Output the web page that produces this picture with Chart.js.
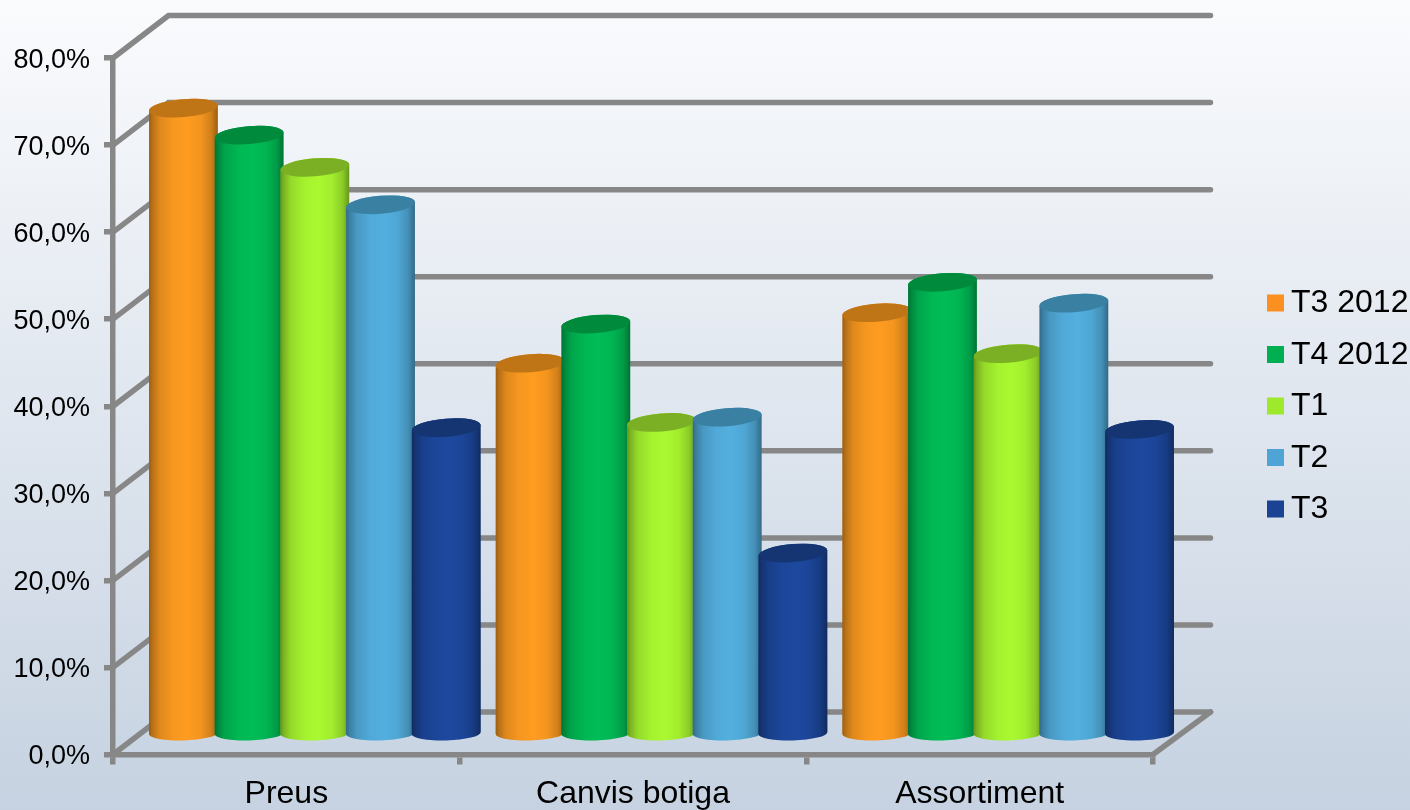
<!DOCTYPE html>
<html>
<head>
<meta charset="utf-8">
<style>
  html, body { margin: 0; padding: 0; background: #fff; }
  canvas { display: block; }
</style>
<script src="https://cdn.jsdelivr.net/npm/chart.js@4"></script>
</head>
<body>
<canvas id="chart" width="1410" height="810"></canvas>
<script>
const categories = ['Preus', 'Canvis botiga', 'Assortiment'];
const seriesNames = ['T3 2012', 'T4 2012', 'T1', 'T2', 'T3'];
const t3_2012 = [71.8, 42.5, 48.3];
const t4_2012 = [68.7, 47.0, 51.8];
const t1 = [65.0, 35.7, 43.6];
const t2 = [60.7, 36.3, 49.4];
const t3 = [35.1, 20.7, 34.9];
const seriesValues = [t3_2012, t4_2012, t1, t2, t3];

const FONT = '"Liberation Sans", Arial, sans-serif';
const AXIS = '#878787';
const DEPTH_X = 55.5;
const DEPTH_Y = 42.5;
const PALETTE = [
  { swatch: '#fb8f1f', body: '#ff9c20', cap: '#bf7416' },
  { swatch: '#00af50', body: '#00bd56', cap: '#008a3c' },
  { swatch: '#9ee92b', body: '#aaf930', cap: '#7cb024' },
  { swatch: '#4ea5d5', body: '#53afdf', cap: '#3a80a3' },
  { swatch: '#1a4393', body: '#1c489e', cap: '#143572' }
];

function drawCylinder(ctx, bar, colors) {
  const rx = bar.width * 0.525;
  const ry = 9;
  const tilt = -0.08;
  const cx = bar.x + DEPTH_X / 2 + 0.75;
  const topY = bar.y - DEPTH_Y / 2;
  const baseY = bar.base - DEPTH_Y / 2 + 2.5;

  const shade = ctx.createLinearGradient(cx - rx, 0, cx + rx, 0);
  shade.addColorStop(0, 'rgba(0,0,0,0.4)');
  shade.addColorStop(0.05, 'rgba(0,0,0,0.28)');
  shade.addColorStop(0.15, 'rgba(0,0,0,0.13)');
  shade.addColorStop(0.35, 'rgba(0,0,0,0.03)');
  shade.addColorStop(0.55, 'rgba(0,0,0,0)');
  shade.addColorStop(0.75, 'rgba(0,0,0,0.05)');
  shade.addColorStop(0.9, 'rgba(0,0,0,0.18)');
  shade.addColorStop(1, 'rgba(0,0,0,0.4)');

  ctx.beginPath();
  ctx.ellipse(cx, baseY, rx, 7.5, -0.03, 0, Math.PI);
  ctx.ellipse(cx, topY, rx, ry, tilt, Math.PI, 0);
  ctx.closePath();
  ctx.fillStyle = colors.body;
  ctx.fill();
  ctx.fillStyle = shade;
  ctx.fill();

  ctx.beginPath();
  ctx.ellipse(cx, topY, rx, ry, tilt, 0, Math.PI * 2);
  ctx.fillStyle = colors.cap;
  ctx.fill();
}

const cylinderChart = {
  id: 'cylinderChart',
  beforeDraw(chart) {
    const ctx = chart.ctx;
    const bg = ctx.createLinearGradient(0, 0, 0, chart.height);
    bg.addColorStop(0, '#fafbfd');
    bg.addColorStop(1, '#c6d2e1');
    ctx.save();
    ctx.fillStyle = bg;
    ctx.fillRect(0, 0, chart.width, chart.height);
    ctx.restore();
  },
  beforeDatasetsDraw(chart) {
    const ctx = chart.ctx;
    const { left, right, bottom } = chart.chartArea;
    const yScale = chart.scales.y;
    ctx.save();
    ctx.strokeStyle = AXIS;
    ctx.lineWidth = 5.5;
    ctx.lineCap = 'round';
    ctx.lineJoin = 'miter';
    yScale.ticks.forEach((tick) => {
      const y = yScale.getPixelForValue(tick.value);
      ctx.beginPath();
      ctx.moveTo(left, y);
      ctx.lineTo(left + DEPTH_X, y - DEPTH_Y);
      ctx.lineTo(right + DEPTH_X + 2, y - DEPTH_Y);
      ctx.stroke();
    });
    ctx.beginPath();
    ctx.moveTo(right, bottom);
    ctx.lineTo(right + DEPTH_X + 2, bottom - DEPTH_Y);
    ctx.stroke();
    // left to right, so each cylinder sits over its left neighbour
    chart.data.datasets.forEach((dataset, i) => {
      chart.getDatasetMeta(i).data.forEach((bar) => drawCylinder(ctx, bar, PALETTE[i]));
    });
    ctx.restore();
  },
  beforeDatasetDraw() {
    return false;
  },
  afterDraw(chart) {
    const ctx = chart.ctx;
    ctx.save();
    ctx.font = '32px ' + FONT;
    ctx.textBaseline = 'middle';
    chart.data.datasets.forEach((dataset, i) => {
      const y = 302.5 + i * 51.5;
      ctx.fillStyle = PALETTE[i].swatch;
      ctx.fillRect(1267, y - 8, 17, 17);
      ctx.fillStyle = '#000';
      ctx.fillText(dataset.label, 1291, y + 1);
    });
    ctx.restore();
  }
};

new Chart(document.getElementById('chart'), {
  type: 'bar',
  data: {
    labels: categories,
    datasets: seriesNames.map((name, i) => ({
      label: name,
      data: seriesValues[i],
      backgroundColor: PALETTE[i].swatch
    }))
  },
  plugins: [cylinderChart],
  options: {
    responsive: false,
    animation: false,
    devicePixelRatio: 1,
    layout: { padding: { top: 58, right: 257, bottom: 0, left: 0 } },
    datasets: { bar: { categoryPercentage: 0.9475, barPercentage: 1 } },
    plugins: { legend: { display: false }, tooltip: { enabled: false } },
    scales: {
      x: {
        afterFit: (scale) => { scale.height = 55.5; },
        border: { color: AXIS, width: 5.5 },
        grid: { drawOnChartArea: false, color: AXIS, lineWidth: 5.5, tickWidth: 5.5, tickColor: AXIS, tickLength: 10 },
        ticks: { color: '#000', font: { family: FONT, size: 32 }, maxRotation: 0, padding: 10 }
      },
      y: {
        min: 0,
        max: 80,
        afterFit: (scale) => { scale.width = 113; },
        border: { color: AXIS, width: 5.5 },
        grid: { drawOnChartArea: false, color: AXIS, lineWidth: 5.5, tickWidth: 5.5, tickColor: AXIS, tickLength: 9 },
        ticks: {
          stepSize: 10,
          color: '#000',
          padding: 14,
          labelOffset: 2.5,
          font: { family: FONT, size: 27 },
          callback: (value) => value.toFixed(1).replace('.', ',') + '%'
        }
      }
    }
  }
});
</script>
</body>
</html>
